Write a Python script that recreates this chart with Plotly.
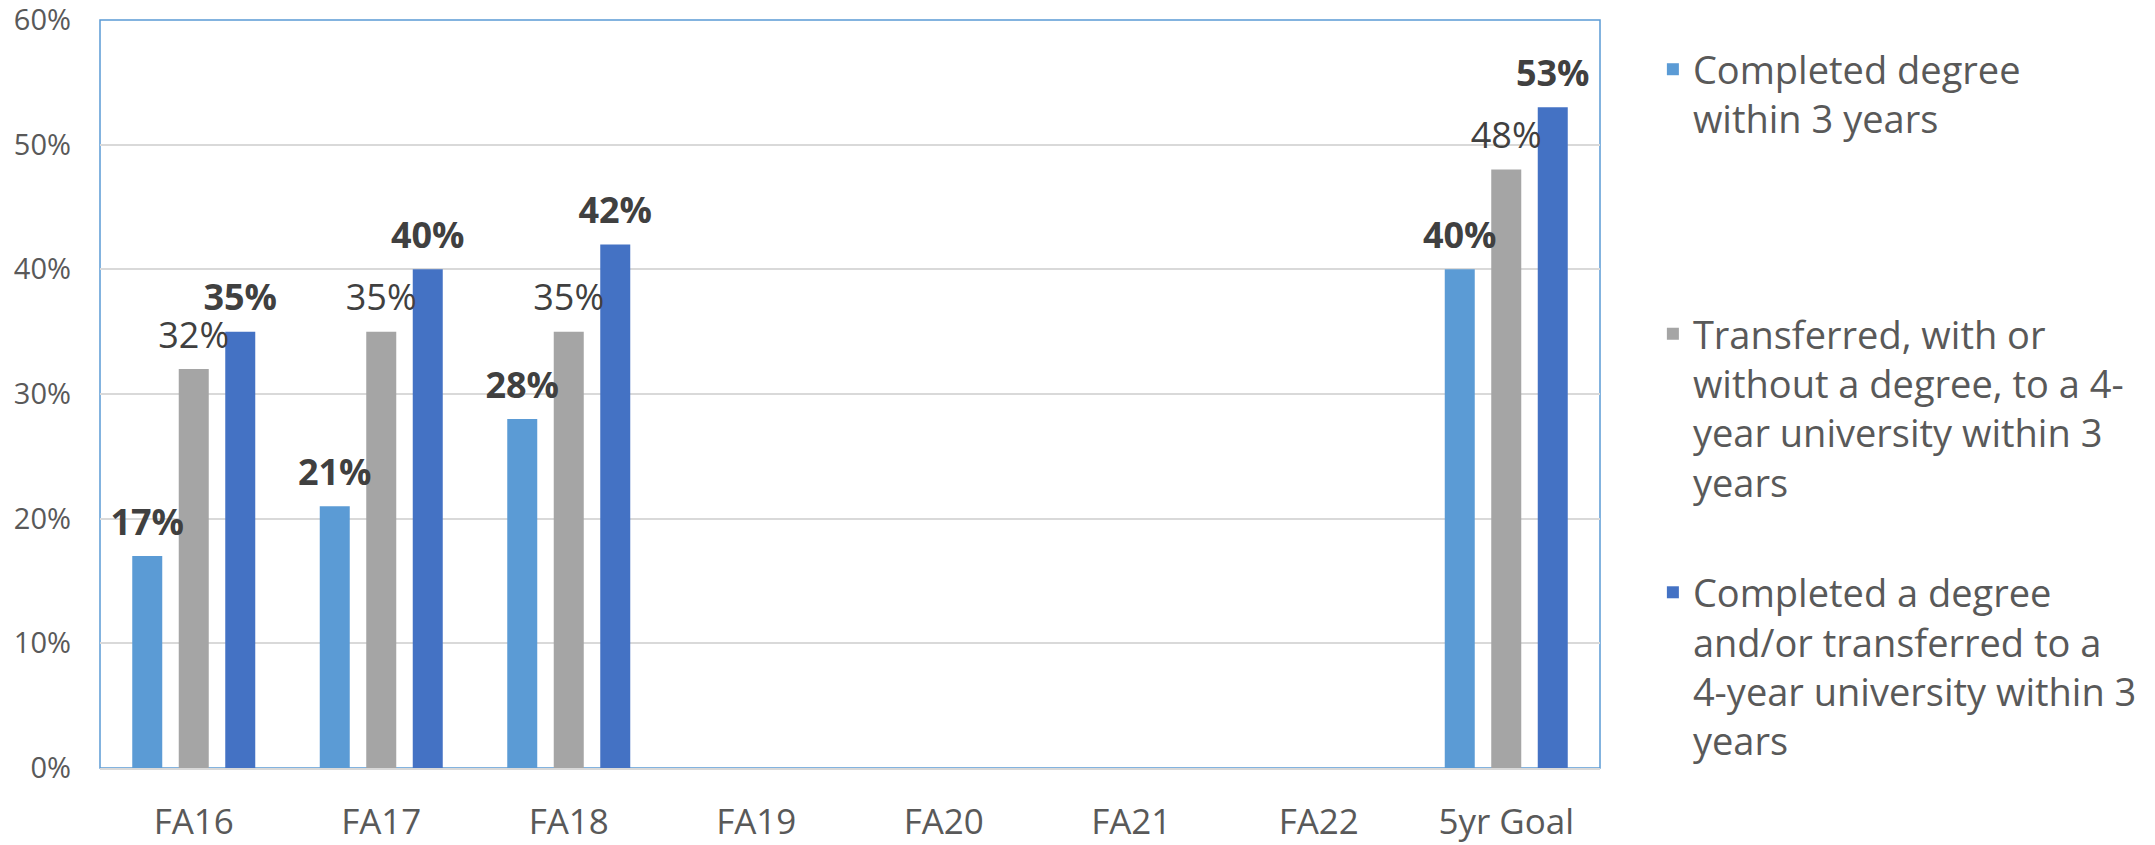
import plotly.graph_objects as go

categories = ["FA16", "FA17", "FA18", "FA19", "FA20", "FA21", "FA22", "5yr Goal"]
completed = [17, 21, 28, None, None, None, None, 40]
transferred = [32, 35, 35, None, None, None, None, 48]
completed_or_transferred = [35, 40, 42, None, None, None, None, 53]

names = [
    "Completed degree<br>within 3 years",
    "Transferred, with or<br>without a degree, to a 4-<br>year university within 3<br>years",
    "Completed a degree<br>and/or transferred to a<br>4-year university within 3<br>years",
]
series = [completed, transferred, completed_or_transferred]
colors = ["#5B9BD5", "#A5A5A5", "#4472C4"]
label_weights = ["bold", "normal", "bold"]
legend_ids = ["legend", "legend2", "legend3"]

FONT = "'Open Sans', Lato, sans-serif"
TXT = "#595959"

fig = go.Figure()
for i, (vals, name, col) in enumerate(zip(series, names, colors)):
    fig.add_trace(go.Bar(
        x=categories, y=vals, name=name, marker=dict(color=col, line=dict(width=0)),
        offsetgroup=str(i), legend=legend_ids[i], hoverinfo="skip",
    ))
for i, (vals, col) in enumerate(zip(series, colors)):
    fig.add_trace(go.Scatter(
        x=categories, y=vals, mode="markers+text",
        text=[f"{v}%" if v is not None else "" for v in vals],
        textposition="top center",
        textfont=dict(family=FONT, size=36, color="#404040", weight=label_weights[i]),
        marker=dict(size=18, opacity=0, color=col),
        offsetgroup=str(i), showlegend=False, hoverinfo="skip", cliponaxis=False,
    ))

legend_common = dict(font=dict(family=FONT, size=38, color=TXT), bgcolor="rgba(0,0,0,0)",
                     xref="container", yref="container",
                     xanchor="left", yanchor="top", x=0.767, valign="top")
fig.update_layout(
    width=2155, height=845,
    margin=dict(l=100, r=555, t=20, b=77),
    paper_bgcolor="white", plot_bgcolor="white",
    barmode="group", bargap=0.256, bargroupgap=0.355,
    scattermode="group",
    font=dict(family=FONT, color=TXT),
    legend=dict(**legend_common, y=0.955),
    legend2=dict(**legend_common, y=0.642),
    legend3=dict(**legend_common, y=0.336),
    xaxis=dict(
        showgrid=False, showline=True, linecolor="#D9D9D9", linewidth=2,
        tickfont=dict(family=FONT, size=35, color=TXT), ticks="",
        ticklabelstandoff=22, automargin=False,
    ),
    yaxis=dict(
        range=[0, 60], dtick=10, ticksuffix="%",
        showgrid=True, gridcolor="#D9D9D9", gridwidth=2, zeroline=False,
        showline=False, ticks="", automargin=False, ticklabeloverflow="allow",
        tickfont=dict(family=FONT, size=29, color=TXT),
        ticklabelstandoff=28,
    ),
    shapes=[dict(type="rect", xref="paper", yref="paper", x0=0, x1=1, y0=0, y1=1,
                 line=dict(color="#5B9BD5", width=1.5), layer="below")],
)

fig.write_html("out.html", config={"displayModeBar": False},
               post_script="document.body.style.margin='0';document.body.style.overflow='hidden';")
